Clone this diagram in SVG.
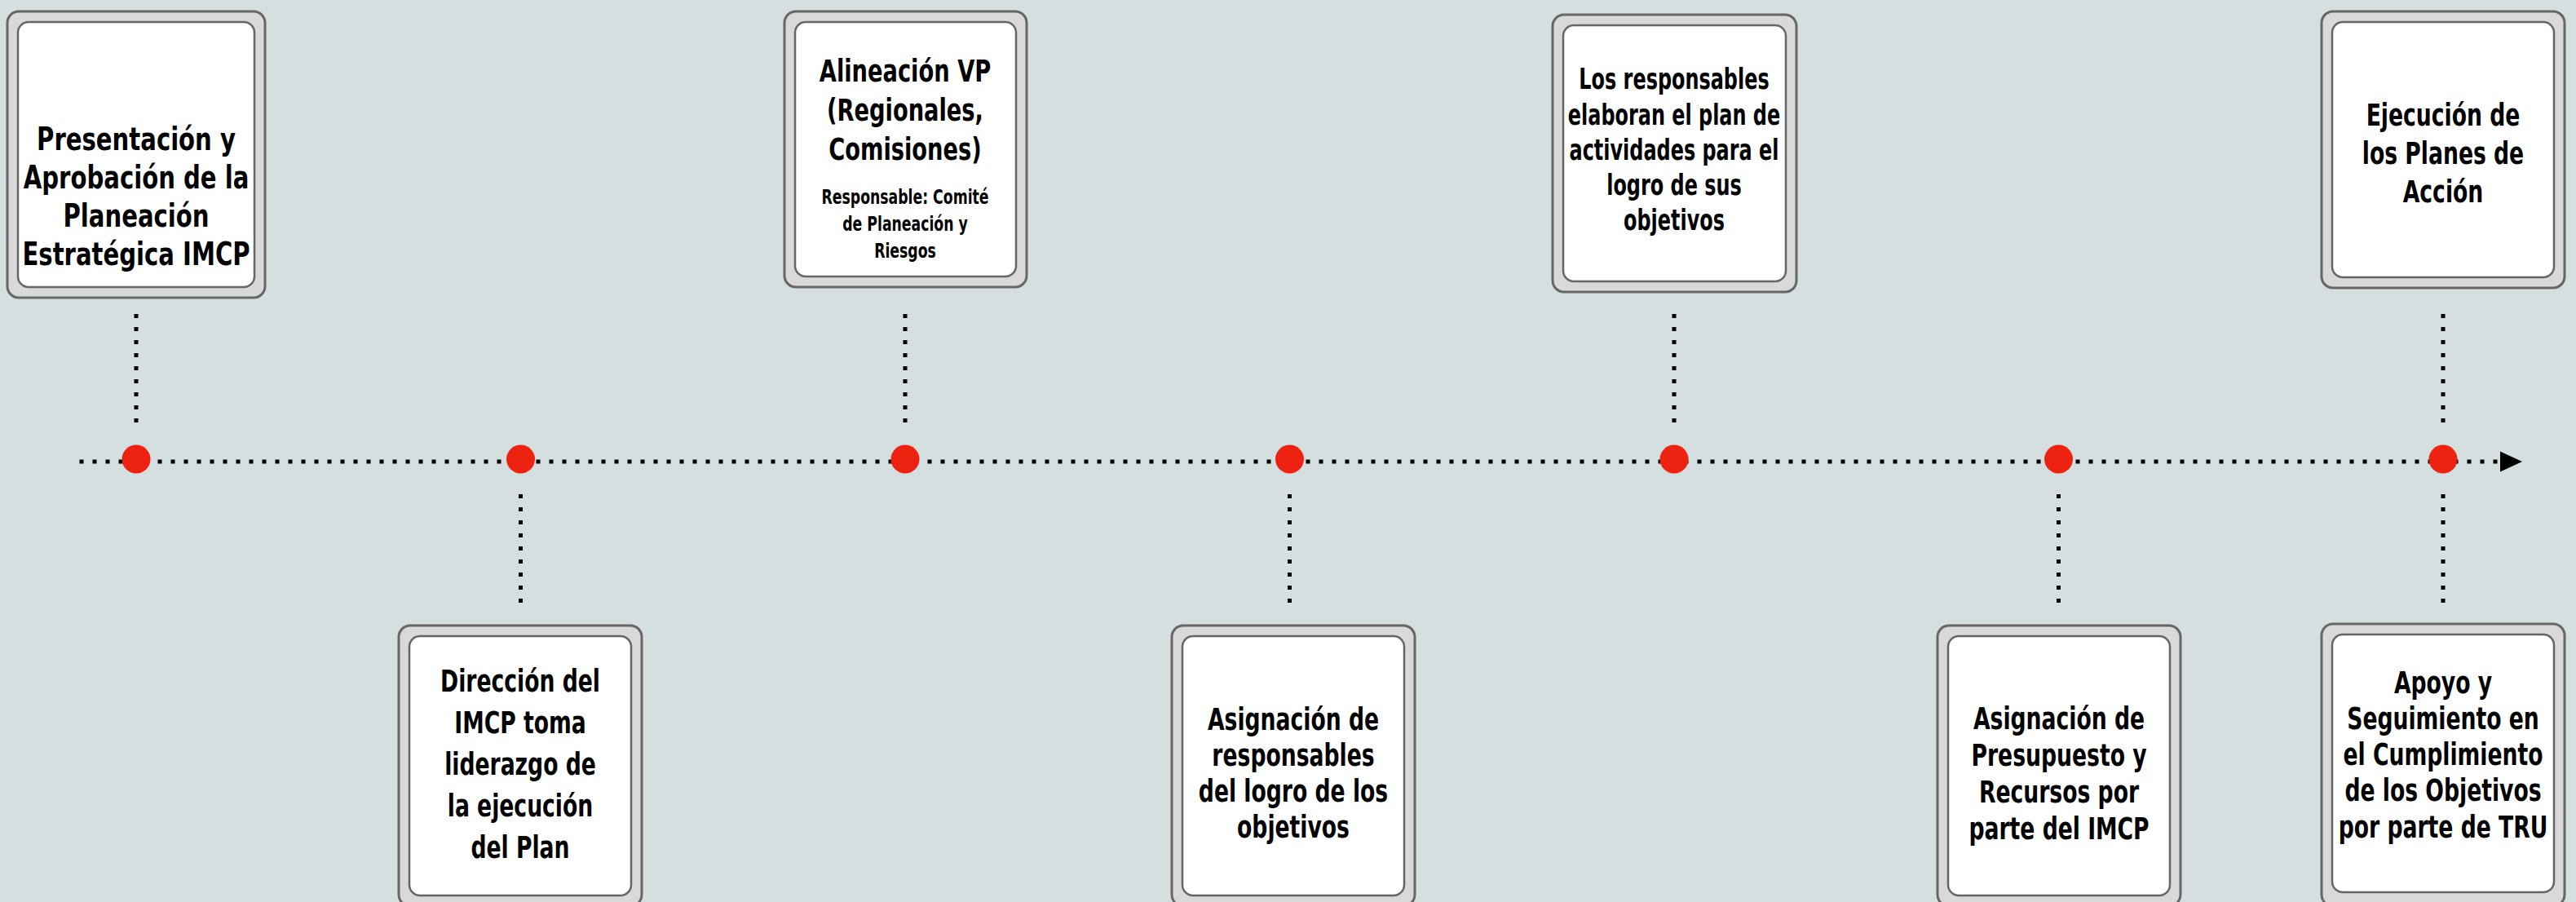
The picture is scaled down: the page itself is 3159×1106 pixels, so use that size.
<svg xmlns="http://www.w3.org/2000/svg" width="3159" height="1106" viewBox="0 0 3159 1106">
<style>
.outer{fill:#d9d9d9;stroke:#666;stroke-width:3}
.inner{fill:#fff;stroke:#666;stroke-width:2.5}
.t{font-family:"Liberation Sans Narrow","DejaVu Sans Condensed","DejaVu Sans",sans-serif;font-weight:bold;font-size:37px;fill:#000;text-anchor:middle}
.s{font-size:24px}
.m{font-size:35px}
.l{font-size:39px}
.dot{stroke:#000;stroke-width:5;stroke-dasharray:5 11;fill:none}
.pin{fill:#ee2211}
</style>
<rect width="3159" height="1106" fill="#d5dfdf"/>
<g id="connectors">
<line class="dot" x1="97.5" y1="566" x2="3066" y2="566"/>
<polygon points="3066,553.5 3093,566 3066,578.5" fill="#000"/>
<line class="dot" x1="167" y1="385" x2="167" y2="518"/>
<line class="dot" x1="1110" y1="385" x2="1110" y2="518"/>
<line class="dot" x1="2053" y1="385" x2="2053" y2="518"/>
<line class="dot" x1="2996" y1="385" x2="2996" y2="518"/>
<line class="dot" x1="638.5" y1="606" x2="638.5" y2="739"/>
<line class="dot" x1="1581.5" y1="606" x2="1581.5" y2="739"/>
<line class="dot" x1="2524.5" y1="606" x2="2524.5" y2="739"/>
<line class="dot" x1="2996" y1="606" x2="2996" y2="739"/>
</g>
<g id="milestones">
<circle class="pin" cx="167" cy="563" r="17.5"/>
<circle class="pin" cx="638.5" cy="563" r="17.5"/>
<circle class="pin" cx="1110" cy="563" r="17.5"/>
<circle class="pin" cx="1581.5" cy="563" r="17.5"/>
<circle class="pin" cx="2053" cy="563" r="17.5"/>
<circle class="pin" cx="2524.5" cy="563" r="17.5"/>
<circle class="pin" cx="2996" cy="563" r="17.5"/>
</g>
<g id="n1">
<rect class="outer" x="9" y="14" width="316" height="351" rx="14"/>
<rect class="inner" x="22" y="27" width="290" height="325" rx="13"/>
<text class="t l" transform="translate(167 0) scale(0.83 1)"><tspan x="0" y="184">Presentación y</tspan><tspan x="0" y="231">Aprobación de la</tspan><tspan x="0" y="278">Planeación</tspan><tspan x="0" y="325">Estratégica IMCP</tspan></text>
</g>
<g id="n2">
<rect class="outer" x="962" y="14" width="297" height="338" rx="14"/>
<rect class="inner" x="975" y="27" width="271" height="312" rx="13"/>
<text class="t" transform="translate(1110 0) scale(0.82 1)"><tspan x="0" y="100">Alineación VP</tspan><tspan x="0" y="148">(Regionales,</tspan><tspan x="0" y="196">Comisiones)</tspan></text>
<text class="t s" transform="translate(1110 0) scale(0.8 1)"><tspan x="0" y="250">Responsable: Comité</tspan><tspan x="0" y="283">de Planeación y</tspan><tspan x="0" y="316">Riesgos</tspan></text>
</g>
<g id="n3">
<rect class="outer" x="1904" y="18" width="299" height="340" rx="14"/>
<rect class="inner" x="1917" y="31" width="273" height="314" rx="13"/>
<text class="t m" transform="translate(2053 0) scale(0.76 1)"><tspan x="0" y="109">Los responsables</tspan><tspan x="0" y="153">elaboran el plan de</tspan><tspan x="0" y="196">actividades para el</tspan><tspan x="0" y="239">logro de sus</tspan><tspan x="0" y="282">objetivos</tspan></text>
</g>
<g id="n4">
<rect class="outer" x="2847" y="14" width="298" height="339" rx="14"/>
<rect class="inner" x="2860" y="27" width="272" height="313" rx="13"/>
<text class="t" transform="translate(2996 0) scale(0.8 1)"><tspan x="0" y="154">Ejecución de</tspan><tspan x="0" y="201">los Planes de</tspan><tspan x="0" y="248">Acción</tspan></text>
</g>
<g id="n5">
<rect class="outer" x="489" y="767" width="298" height="344" rx="14"/>
<rect class="inner" x="502" y="780" width="272" height="318" rx="13"/>
<text class="t" transform="translate(638 0) scale(0.8 1)"><tspan x="0" y="848">Dirección del</tspan><tspan x="0" y="899">IMCP toma</tspan><tspan x="0" y="950">liderazgo de</tspan><tspan x="0" y="1001">la ejecución</tspan><tspan x="0" y="1052">del Plan</tspan></text>
</g>
<g id="n6">
<rect class="outer" x="1437" y="767" width="298" height="344" rx="14"/>
<rect class="inner" x="1450" y="780" width="272" height="318" rx="13"/>
<text class="t" transform="translate(1586 0) scale(0.8 1)"><tspan x="0" y="895">Asignación de</tspan><tspan x="0" y="939">responsables</tspan><tspan x="0" y="983">del logro de los</tspan><tspan x="0" y="1027">objetivos</tspan></text>
</g>
<g id="n7">
<rect class="outer" x="2376" y="767" width="298" height="344" rx="14"/>
<rect class="inner" x="2389" y="780" width="272" height="318" rx="13"/>
<text class="t" transform="translate(2525 0) scale(0.8 1)"><tspan x="0" y="894">Asignación de</tspan><tspan x="0" y="939">Presupuesto y</tspan><tspan x="0" y="984">Recursos por</tspan><tspan x="0" y="1029">parte del IMCP</tspan></text>
</g>
<g id="n8">
<rect class="outer" x="2847" y="765" width="298" height="346" rx="14"/>
<rect class="inner" x="2860" y="778" width="272" height="316" rx="13"/>
<text class="t" transform="translate(2996 0) scale(0.8 1)"><tspan x="0" y="850">Apoyo y</tspan><tspan x="0" y="894">Seguimiento en</tspan><tspan x="0" y="938">el Cumplimiento</tspan><tspan x="0" y="982">de los Objetivos</tspan><tspan x="0" y="1027">por parte de TRU</tspan></text>
</g>
</svg>
